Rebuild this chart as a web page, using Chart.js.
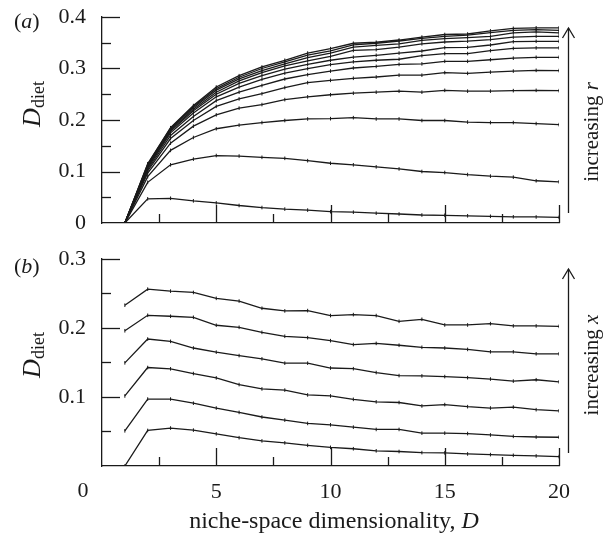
<!DOCTYPE html>
<html>
<head>
<meta charset="utf-8">
<script src="https://cdn.jsdelivr.net/npm/chart.js@4.4.1/dist/chart.umd.min.js"></script>
<style>
  body { margin: 0; background: #fff; }
  #wrapA { position: absolute; left: 0; top: 0; width: 606px; height: 240px; }
  #wrapB { position: absolute; left: 0; top: 240px; width: 606px; height: 293px; }
</style>
</head>
<body>
<div id="wrapA"><canvas id="chartA"></canvas></div>
<div id="wrapB"><canvas id="chartB"></canvas></div>
<script>
// niche-space dimensionality D
const dims = [1,2,3,4,5,6,7,8,9,10,11,12,13,14,15,16,17,18,19,20];

// panel (a): one series per value of r, lowest first
const a_r1  = [0, 0.047, 0.048, 0.043, 0.039, 0.034, 0.030, 0.027, 0.025, 0.022, 0.021, 0.019, 0.0175, 0.0155, 0.015, 0.014, 0.013, 0.012, 0.0117, 0.011];
const a_r2  = [0, 0.079, 0.113, 0.124, 0.131, 0.130, 0.1275, 0.1256, 0.121, 0.116, 0.113, 0.109, 0.105, 0.100, 0.098, 0.094, 0.091, 0.089, 0.082, 0.080];
const a_r3  = [0, 0.090, 0.141, 0.166, 0.183, 0.190, 0.195, 0.199, 0.202, 0.2026, 0.2045, 0.202, 0.202, 0.199, 0.199, 0.196, 0.195, 0.195, 0.193, 0.191];
const a_r4  = [0, 0.097, 0.155, 0.188, 0.210, 0.223, 0.230, 0.2395, 0.245, 0.249, 0.252, 0.254, 0.256, 0.254, 0.2576, 0.256, 0.256, 0.257, 0.2576, 0.257];
const a_r5  = [0, 0.101, 0.164, 0.199, 0.2265, 0.241, 0.251, 0.263, 0.2725, 0.277, 0.281, 0.2835, 0.287, 0.287, 0.292, 0.2906, 0.293, 0.295, 0.2964, 0.296];
const a_r6  = [0, 0.104, 0.170, 0.207, 0.2375, 0.254, 0.267, 0.2796, 0.288, 0.295, 0.301, 0.304, 0.308, 0.309, 0.314, 0.314, 0.317, 0.320, 0.3217, 0.3217];
const a_r7  = [0, 0.107, 0.175, 0.2136, 0.245, 0.264, 0.279, 0.291, 0.2997, 0.3075, 0.313, 0.316, 0.318, 0.325, 0.329, 0.329, 0.3346, 0.339, 0.340, 0.340];
const a_r8  = [0, 0.109, 0.178, 0.218, 0.250, 0.271, 0.286, 0.299, 0.308, 0.316, 0.322, 0.3256, 0.330, 0.334, 0.3405, 0.341, 0.3456, 0.352, 0.3528, 0.3528];
const a_r9  = [0, 0.111, 0.180, 0.221, 0.254, 0.276, 0.292, 0.305, 0.315, 0.3236, 0.335, 0.3366, 0.3417, 0.348, 0.3515, 0.353, 0.356, 0.361, 0.3625, 0.3625];
const a_r10 = [0, 0.112, 0.182, 0.224, 0.258, 0.280, 0.296, 0.309, 0.321, 0.330, 0.3417, 0.345, 0.348, 0.3547, 0.358, 0.360, 0.3625, 0.369, 0.371, 0.369];
const a_r11 = [0, 0.114, 0.184, 0.226, 0.261, 0.283, 0.300, 0.313, 0.326, 0.334, 0.346, 0.349, 0.3534, 0.3586, 0.3625, 0.365, 0.3696, 0.374, 0.3754, 0.374];
const a_r12 = [0, 0.115, 0.185, 0.228, 0.264, 0.286, 0.303, 0.316, 0.330, 0.3385, 0.349, 0.351, 0.3553, 0.361, 0.366, 0.367, 0.373, 0.378, 0.379, 0.379];

// panel (b): one series per value of x, lowest first
const b_x1 = [0, 0.0515, 0.055, 0.052, 0.0466, 0.041, 0.0364, 0.0335, 0.030, 0.027, 0.025, 0.022, 0.021, 0.0194, 0.019, 0.0175, 0.0165, 0.0155, 0.0146, 0.0136];
const b_x2 = [0.051, 0.097, 0.097, 0.091, 0.084, 0.0777, 0.071, 0.0665, 0.0617, 0.0597, 0.0563, 0.053, 0.053, 0.0476, 0.0476, 0.047, 0.045, 0.043, 0.042, 0.0417];
const b_x3 = [0.1015, 0.1427, 0.1408, 0.134, 0.1277, 0.118, 0.1117, 0.110, 0.103, 0.1015, 0.0966, 0.093, 0.092, 0.087, 0.089, 0.086, 0.084, 0.0854, 0.0816, 0.080];
const b_x4 = [0.1495, 0.184, 0.1806, 0.171, 0.165, 0.160, 0.1553, 0.149, 0.149, 0.142, 0.141, 0.1354, 0.131, 0.1306, 0.1296, 0.128, 0.126, 0.123, 0.125, 0.122];
const b_x5 = [0.196, 0.2184, 0.217, 0.2155, 0.204, 0.201, 0.1937, 0.188, 0.186, 0.1816, 0.176, 0.1777, 0.175, 0.172, 0.171, 0.169, 0.1655, 0.1655, 0.1626, 0.1626];
const b_x6 = [0.233, 0.2563, 0.2534, 0.2515, 0.243, 0.239, 0.2286, 0.2248, 0.2252, 0.218, 0.2194, 0.218, 0.2097, 0.2126, 0.2044, 0.2044, 0.2063, 0.203, 0.203, 0.2024];

const seriesA = [a_r1, a_r2, a_r3, a_r4, a_r5, a_r6, a_r7, a_r8, a_r9, a_r10, a_r11, a_r12];
const seriesB = [b_x1, b_x2, b_x3, b_x4, b_x5, b_x6];

const SERIF = "'Liberation Serif', 'DejaVu Serif', serif";
const INK = '#1a1a1a';
Chart.defaults.font.family = SERIF;
Chart.defaults.color = INK;

function makeSet(vals) {
  return {
    data: vals.map((v, i) => ({ x: dims[i], y: v })),
    borderColor: INK,
    borderWidth: 1.3,
    pointStyle: 'line',
    rotation: 90,
    pointRadius: 1.8,
    pointBorderWidth: 1,
    pointBorderColor: INK,
    tension: 0,
    fill: false
  };
}

// draw a run of text pieces with different fonts, left to right
function drawRuns(ctx, runs, x, y, align) {
  let total = 0;
  runs.forEach(r => { ctx.font = r.font; total += ctx.measureText(r.t).width; });
  let cx = align === 'center' ? x - total / 2 : x;
  ctx.textAlign = 'left';
  ctx.textBaseline = 'alphabetic';
  runs.forEach(r => {
    ctx.font = r.font;
    ctx.fillText(r.t, cx, y + (r.dy || 0));
    cx += ctx.measureText(r.t).width;
  });
}

const panelDeco = {
  id: 'panelDeco',
  afterDraw(chart, args, o) {
    const ctx = chart.ctx, xs = chart.scales.x, ys = chart.scales.y;
    ctx.save();
    ctx.strokeStyle = INK;
    ctx.fillStyle = INK;
    ctx.lineWidth = 1.3;
    // inward ticks on y
    for (let k = 1; k * 0.05 <= o.ymax + 1e-9; k++) {
      const py = Math.round(ys.getPixelForValue(k * 0.05)) + 0.5;
      const len = k % 2 === 0 ? 18 : 9;
      ctx.beginPath(); ctx.moveTo(xs.left, py); ctx.lineTo(xs.left + len, py); ctx.stroke();
    }
    // inward ticks on x
    for (let k = 1; k * 2.5 <= 20; k++) {
      const px = Math.round(xs.getPixelForValue(k * 2.5)) + 0.5;
      const len = k % 2 === 0 ? 18 : 9;
      ctx.beginPath(); ctx.moveTo(px, ys.bottom); ctx.lineTo(px, ys.bottom - len); ctx.stroke();
    }
    // panel letter
    drawRuns(ctx, [
      { t: '(', font: '22px ' + SERIF },
      { t: o.letter, font: 'italic 22px ' + SERIF },
      { t: ')', font: '22px ' + SERIF }
    ], 14, o.letterY, 'left');
    // y axis title
    ctx.save();
    ctx.translate(40, o.titleY);
    ctx.rotate(-Math.PI / 2);
    drawRuns(ctx, [
      { t: 'D', font: 'italic 26px ' + SERIF },
      { t: 'diet', font: '18px ' + SERIF, dy: 4 }
    ], 0, 0, 'center');
    ctx.restore();
    // arrow
    const ax = 568.5;
    ctx.beginPath(); ctx.moveTo(ax, o.arrowBottom); ctx.lineTo(ax, o.arrowTop); ctx.stroke();
    ctx.beginPath();
    ctx.moveTo(ax - 6, o.arrowTop + 10); ctx.lineTo(ax, o.arrowTop); ctx.lineTo(ax + 6, o.arrowTop + 10);
    ctx.stroke();
    ctx.save();
    ctx.translate(598, o.arrowTextY);
    ctx.rotate(-Math.PI / 2);
    drawRuns(ctx, [
      { t: 'increasing ', font: '21px ' + SERIF },
      { t: o.arrowVar, font: 'italic 21px ' + SERIF }
    ], 0, 0, 'center');
    ctx.restore();
    // x tick "0" sits left of the axis, and the axis title
    if (o.xTitle) {
      ctx.font = '22px ' + SERIF;
      ctx.textAlign = 'center';
      ctx.textBaseline = 'alphabetic';
      ctx.fillText('0', xs.getPixelForValue(0) - 19, o.zeroY);
      drawRuns(ctx, [
        { t: 'niche-space dimensionality, ', font: '24px ' + SERIF },
        { t: 'D', font: 'italic 24px ' + SERIF }
      ], 334, o.xTitleY, 'center');
    }
    ctx.restore();
  }
};

function baseScales(ymax, showX, xHeight) {
  return {
    x: {
      type: 'linear', min: 0, max: 20,
      grid: { display: false },
      border: { display: true, color: INK, width: 1.3 },
      ticks: {
        display: showX, stepSize: 5, autoSkip: false, maxRotation: 0, padding: 5,
        font: { size: 22 }, color: INK,
        callback: v => (v === 0 ? '' : String(v))
      },
      afterFit: s => { s.height = xHeight; s.paddingLeft = 0; s.paddingRight = 0; }
    },
    y: {
      type: 'linear', min: 0, max: ymax,
      grid: { display: false },
      border: { display: true, color: INK, width: 1.3 },
      ticks: {
        stepSize: 0.1, padding: 8, font: { size: 22 }, color: INK,
        callback: v => {
          const r = Math.round(v * 10) / 10;
          if (r === 0) return showX ? '' : '0';
          return r.toFixed(1);
        }
      },
      afterFit: s => { s.width = 102; s.paddingTop = 0; s.paddingBottom = 0; }
    }
  };
}

new Chart(document.getElementById('chartA'), {
  type: 'line',
  data: { datasets: seriesA.map(makeSet) },
  options: {
    animation: false, responsive: true, maintainAspectRatio: false,
    layout: { padding: { top: 17, right: 47, left: 0, bottom: 0 } },
    plugins: {
      legend: { display: false }, tooltip: { enabled: false },
      panelDeco: { ymax: 0.4, letter: 'a', letterY: 28, titleY: 104,
        arrowTop: 28, arrowBottom: 213, arrowTextY: 132, arrowVar: 'r', xTitle: false }
    },
    scales: baseScales(0.4, false, 17)
  },
  plugins: [panelDeco]
});

new Chart(document.getElementById('chartB'), {
  type: 'line',
  data: { datasets: seriesB.map(makeSet) },
  options: {
    animation: false, responsive: true, maintainAspectRatio: false,
    layout: { padding: { top: 19, right: 47, left: 0, bottom: 0 } },
    plugins: {
      legend: { display: false }, tooltip: { enabled: false },
      panelDeco: { ymax: 0.3, letter: 'b', letterY: 33, titleY: 115,
        arrowTop: 29, arrowBottom: 213, arrowTextY: 125, arrowVar: 'x',
        xTitle: true, zeroY: 257, xTitleY: 288 }
    },
    scales: baseScales(0.3, true, 67)
  },
  plugins: [panelDeco]
});
</script>
</body>
</html>
